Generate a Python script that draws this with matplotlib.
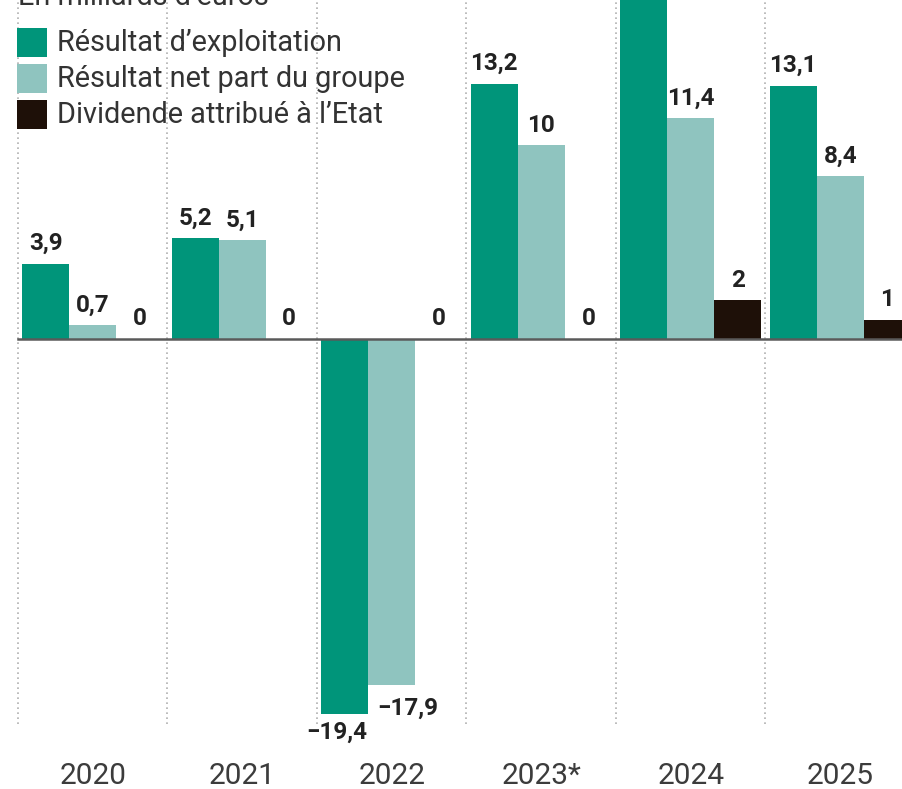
import matplotlib
matplotlib.use("Agg")
import matplotlib.pyplot as plt
import numpy as np

years = ["2020", "2021", "2022", "2023*", "2024", "2025"]
resultat_exploitation = [3.9, 5.2, -19.4, 13.2, 18.4, 13.1]
resultat_net = [0.7, 5.1, -17.9, 10.0, 11.4, 8.4]
dividende = [0, 0, 0, 0, 2, 1]
series_names = ["Résultat d’exploitation", "Résultat net part du groupe", "Dividende attribué à l’Etat"]
unit_title = "En milliards d’euros"

colors = ["#00957a", "#8fc4bf", "#1e1008"]

fig = plt.figure(figsize=(9.02, 7.89), dpi=100)
ax = fig.add_axes([0, 0, 1, 1])
YMAX = 17.52
ax.set_xlim(-0.62, 5.413)
ax.set_ylim(-23.26, YMAX)
ax.axis("off")

x = np.arange(len(years))
w = 0.315
offsets = [-0.315, 0.0, 0.315]
all_series = [resultat_exploitation, resultat_net, dividende]

# separators
for i in range(len(years)):
    ax.plot([i - 0.5, i - 0.5], [-19.9, YMAX], color="#b0b0b0", lw=1.2,
            linestyle=(0, (1, 2)), zorder=1)

for s, (vals, off, col) in enumerate(zip(all_series, offsets, colors)):
    ax.bar(x + off, vals, width=w, color=col, zorder=2, linewidth=0)

# zero line
ax.plot([-0.5, 5.413], [0, 0], color="#5a5a5a", lw=1.8, zorder=3)

def fmt(v):
    s = ("%.1f" % v).replace(".", ",")
    if s.endswith(",0"):
        s = s[:-2]
    return s.replace("-", "−")

lab_font = dict(family=["Roboto", "DejaVu Sans"], fontweight="bold", fontsize=17.5, color="#222222")
for s, (vals, off) in enumerate(zip(all_series, offsets)):
    for i, v in enumerate(vals):
        xc = x[i] + off
        if v >= 0:
            if v + 2 > YMAX:
                continue  # label lies beyond the cropped top edge in the reference
            ax.text(xc, v + 0.45, fmt(v), ha="center", va="bottom", **lab_font, zorder=4)
        else:
            if s == 0:
                ax.text(xc - 0.05, v - 0.35, fmt(v), ha="center", va="top", **lab_font, zorder=4)
            else:
                ax.text(xc + 0.11, v - 0.6, fmt(v), ha="center", va="top", **lab_font, zorder=4)

for i, y in enumerate(years):
    ax.text(x[i], -22.6, y, ha="center", va="center", family=["Roboto", "DejaVu Sans"],
            fontweight="normal", fontsize=21.5, color="#3c3c3c")

# legend
leg_x0 = -0.5
for k, (name, col) in enumerate(zip(series_names, colors)):
    ytop = YMAX - 28 / 19.35 - k * 36 / 19.35
    ax.add_patch(plt.Rectangle((leg_x0 - 0.005, ytop - 29 / 19.35), 30 / 149.5, 29 / 19.35,
                               color=col, zorder=5, linewidth=0))
    ax.text(leg_x0 + 39 / 149.5, ytop - 15 / 19.35, name, ha="left", va="center",
            family=["Roboto", "DejaVu Sans"], fontsize=20.8, color="#333333", zorder=5)

fig.text(18 / 902, 1.0 - 5 / 789, unit_title, ha="left", va="baseline",
         family=["Roboto", "DejaVu Sans"], fontsize=20.8, color="#333333")

fig.savefig("out.png", dpi=100)
